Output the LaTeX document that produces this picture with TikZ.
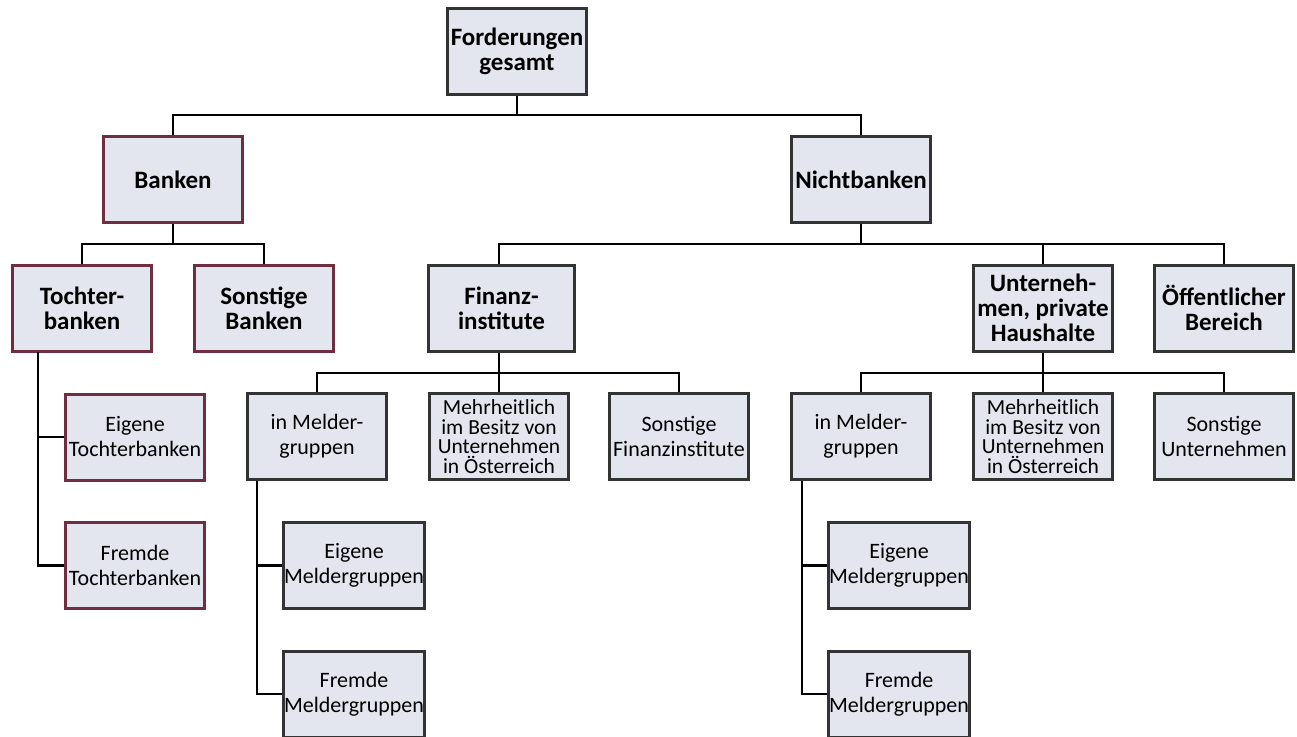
\documentclass[tikz,border=0pt]{standalone}
\usepackage{fontspec}
\setmainfont{Carlito}
\definecolor{boxfill}{RGB}{227, 230, 238}
\definecolor{boxgray}{RGB}{51, 51, 51}
\definecolor{bankred}{RGB}{110, 46, 64}
\usepackage{tikz}
\usetikzlibrary{calc}

\tikzset{
  orgbox/.style={draw=boxgray, fill=boxfill, line width=3pt, minimum width=139pt, minimum height=86pt, align=center, inner sep=1pt, font=\fontsize{22}{25}\selectfont},
  headbox/.style={orgbox, font=\fontsize{25}{25}\selectfont\bfseries},
  bankbox/.style={draw=bankred},
  tightbox/.style={font=\fontsize{21.5}{19.5}\selectfont},
  conn/.style={draw=black, line width=2.6pt}
}

\begin{document}
\begin{tikzpicture}[x=1pt, y=-1pt]
  \useasboundingbox (0,0) rectangle (1297,736);
  \begin{scope}
  \clip (0,0) rectangle (1297,736);

  % Top level
  \node[headbox] (ges) at (517, 51.5) {Forderungen\\gesamt};

  % Second level
  \node[headbox, bankbox] (bank) at (173, 179.5) {Banken};
  \node[headbox] (nbank) at (861, 179.5) {Nichtbanken};

  % Third level
  \node[headbox, bankbox] (toch) at (82, 308) {Tochter-\\banken};
  \node[headbox, bankbox] (sbank) at (264, 308) {Sonstige\\Banken};
  \node[headbox, minimum width=146pt] (fin) at (501.5, 308) {Finanz-\\institute};
  \node[headbox] (unt) at (1043, 308) {Unterneh-\\men, private\\Haushalte};
  \node[headbox] (oeff) at (1224, 308) {Öffentlicher\\Bereich};

  % Fourth level
  \node[orgbox, bankbox] (etoch) at (135, 437) {Eigene\\Tochterbanken};
  \node[orgbox, bankbox] (ftoch) at (135, 565.5) {Fremde\\Tochterbanken};

  \node[orgbox] (fmg) at (317, 436.5) {in Melder-\\gruppen};
  \node[orgbox, tightbox] (fmehr) at (499, 436.5) {Mehrheitlich\\im Besitz von\\Unternehmen\\in Österreich};
  \node[orgbox] (fsonst) at (679, 436.5) {Sonstige\\Finanzinstitute};

  \node[orgbox] (umg) at (861, 436.5) {in Melder-\\gruppen};
  \node[orgbox, tightbox] (umehr) at (1043, 436.5) {Mehrheitlich\\im Besitz von\\Unternehmen\\in Österreich};
  \node[orgbox] (usonst) at (1224, 436.5) {Sonstige\\Unternehmen};

  % Fifth level
  \node[orgbox] (feig) at (354, 565.5) {Eigene\\Meldergruppen};
  \node[orgbox] (ffrem) at (354, 694) {Fremde\\Meldergruppen};
  \node[orgbox] (ueig) at (899, 565.5) {Eigene\\Meldergruppen};
  \node[orgbox] (ufrem) at (899, 694) {Fremde\\Meldergruppen};

  % Forks
  \coordinate (ges-fork) at (517, 115);
  \coordinate (bank-fork) at (173, 244);
  \coordinate (nbank-fork) at (861, 244);
  \coordinate (fin-fork) at (499, 373);
  \coordinate (unt-fork) at (1043, 373);
  \coordinate (toch-rail) at (38, 352);
  \coordinate (fmg-rail) at (257, 481);
  \coordinate (umg-rail) at (802, 481);

  % Connectors
  \draw[conn] (ges.south) -- (ges-fork);
  \draw[conn] (bank.north) |- (ges-fork) -| (nbank.north);

  \draw[conn] (bank.south) -- (bank-fork);
  \draw[conn] (toch.north) |- (bank-fork) -| (sbank.north);

  \draw[conn] (nbank.south) -- (nbank-fork);
  \draw[conn] (fin.north -| fin-fork) |- (nbank-fork) -| (oeff.north);
  \draw[conn] (unt.north) -- (unt.north |- nbank-fork);

  \draw[conn] (fin.south -| fin-fork) -- (fin-fork);
  \draw[conn] (fmg.north) |- (fin-fork) -| (fsonst.north);
  \draw[conn] (fmehr.north) -- (fin-fork);

  \draw[conn] (unt.south) -- (unt-fork);
  \draw[conn] (umg.north) |- (unt-fork) -| (usonst.north);
  \draw[conn] (umehr.north) -- (unt-fork);

  \draw[conn] (toch-rail) |- (ftoch.west);
  \draw[conn] (etoch.west) -- (etoch.west -| toch-rail);

  \draw[conn] (fmg-rail) |- (ffrem.west);
  \draw[conn] (feig.west) -- (feig.west -| fmg-rail);

  \draw[conn] (umg-rail) |- (ufrem.west);
  \draw[conn] (ueig.west) -- (ueig.west -| umg-rail);
  \end{scope}
\end{tikzpicture}
\end{document}
